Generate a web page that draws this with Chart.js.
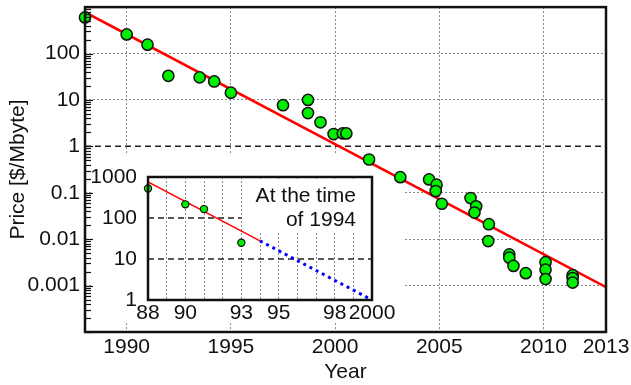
<!DOCTYPE html>
<html>
<head>
<meta charset="utf-8">
<script src="https://cdn.jsdelivr.net/npm/chart.js"></script>
<style>
  body { margin: 0; background: #fff; }
  #wrap { position: relative; width: 631px; height: 385px; }
  #main { position: absolute; left: 0; top: 0; }
  #inset { position: absolute; left: 92px; top: 155px; }
</style>
</head>
<body>
<div id="wrap">
  <canvas id="main" width="631" height="385"></canvas>
  <canvas id="inset" width="313" height="168"></canvas>
</div>
<script>
// ---- main chart data ----
const years = [1988, 1990, 1991, 1992, 1993.5, 1994.2, 1995, 1997.5, 1998.7, 1998.7,
  1999.3, 1999.93, 2000.37, 2000.54, 2001.63, 2003.13, 2004.51, 2004.87, 2004.83, 2005.12,
  2006.5, 2006.77, 2006.69, 2007.38, 2007.35, 2008.36, 2008.36, 2008.56, 2009.15,
  2010.1, 2010.1, 2010.1, 2011.4, 2011.4, 2011.4];
const prices = [600, 258, 155, 33, 30.6, 25, 14.3, 7.7, 10, 5.2,
  3.3, 1.84, 1.9, 1.9, 0.52, 0.217, 0.194, 0.149, 0.109, 0.058,
  0.077, 0.051, 0.0375, 0.021, 0.0091, 0.0047, 0.004, 0.00265, 0.00185,
  0.0032, 0.0022, 0.00138, 0.00168, 0.00145, 0.00116];
const fitYears = [1988, 2013];
const fitPrices = [776, 0.00093];
const refPrice = 1;
const xTickYears = [1990, 1995, 2000, 2005, 2010, 2013];
const yTickLabels = { '-3': '0.001', '-2': '0.01', '-1': '0.1', '0': '1', '1': '10', '2': '100' };

// ---- inset data (as of 1994) ----
const insetYears = [1988, 1990, 1991, 1993];
const insetPrices = [525, 215, 165, 25];
const insetFitYears = [1988, 1994];
const insetFitPrices = [757, 27.7];
const insetProjYears = [1994, 2000];
const insetProjPrices = [27.7, 1.0];
const insetTickLabels = { 1988: '88', 1990: '90', 1993: '93', 1995: '95', 1998: '98', 2000: '2000' };
const insetText = ['At the time', 'of 1994'];

const FONT = 'Liberation Sans, Arial, sans-serif';
const GREEN = '#00ee00';

function pts(xs, ys) {
  return xs.map((x, i) => ({ x: x, y: ys[i] }));
}

function noPad(s) {
  s.paddingTop = 0; s.paddingBottom = 0; s.paddingLeft = 0; s.paddingRight = 0;
}

// frame + inward ticks on the left axis, white patch under the inset
const mainDecor = {
  id: 'mainDecor',
  beforeDatasetsDraw(chart) {
    const ctx = chart.ctx;
    ctx.save();
    ctx.fillStyle = '#fff';
    ctx.fillRect(92, 155, 313, 168);
    ctx.restore();
  },
  afterDraw(chart) {
    const ctx = chart.ctx;
    const a = chart.chartArea;
    const ys = chart.scales.y;
    ctx.save();
    ctx.strokeStyle = '#111';
    ctx.lineWidth = 1.2;
    for (let n = -4; n <= 3; n++) {
      for (let k = 1; k <= 9; k++) {
        const v = k * Math.pow(10, n);
        if (v > 1000.01) break;
        const py = Math.round(ys.getPixelForValue(v)) + 0.5;
        ctx.beginPath();
        ctx.moveTo(a.left, py);
        ctx.lineTo(a.left + (k === 1 ? 8 : 6), py);
        ctx.stroke();
      }
    }
    ctx.lineWidth = 2.5;
    ctx.strokeRect(a.left, a.top, a.right - a.left, a.bottom - a.top);
    ctx.restore();
  }
};

new Chart(document.getElementById('main'), {
  type: 'scatter',
  data: {
    datasets: [
      {
        data: pts(years, prices),
        backgroundColor: GREEN,
        borderColor: '#111',
        borderWidth: 1.5,
        pointRadius: 5.6,
        clip: false,
        order: 0
      },
      {
        type: 'line',
        data: pts(fitYears, fitPrices),
        borderColor: '#ff0000',
        borderWidth: 2.5,
        pointRadius: 0,
        order: 1
      },
      {
        type: 'line',
        data: pts(fitYears, [refPrice, refPrice]),
        borderColor: '#222',
        borderWidth: 1.5,
        borderDash: [6, 4],
        pointRadius: 0,
        order: 2
      }
    ]
  },
  options: {
    responsive: false,
    animation: false,
    devicePixelRatio: 1,
    layout: { padding: { top: 6, right: 25, left: 0, bottom: 0 } },
    plugins: { legend: { display: false }, tooltip: { enabled: false } },
    scales: {
      x: {
        type: 'linear',
        min: 1988,
        max: 2013,
        afterBuildTicks: (s) => { s.ticks = xTickYears.map(v => ({ value: v })); },
        afterFit: (s) => { s.height = 53; noPad(s); },
        ticks: { color: '#111', font: { family: FONT, size: 21 }, padding: 3, maxRotation: 0, autoSkip: false,
          callback: (v) => String(v) },
        grid: { color: (c) => c.tick && c.tick.value < 2012 ? '#888' : 'transparent', lineWidth: 1, drawTicks: false },
        border: { display: false, dash: [2, 2] },
        title: { display: true, text: 'Year', color: '#111', font: { family: FONT, size: 21 }, padding: { top: 0, bottom: 0 } }
      },
      y: {
        type: 'logarithmic',
        min: 0.0001,
        max: 1000,
        afterBuildTicks: (s) => {
          const t = [];
          for (let n = -4; n <= 3; n++) t.push({ value: Math.pow(10, n) });
          s.ticks = t;
        },
        afterFit: (s) => { s.width = 85; noPad(s); },
        ticks: { color: '#111', font: { family: FONT, size: 21 }, padding: 5, autoSkip: false,
          callback: (v) => {
            const n = Math.round(Math.log10(v));
            return yTickLabels[n] !== undefined ? yTickLabels[n] : '';
          } },
        grid: {
          color: (c) => {
            if (!c.tick) return 'transparent';
            const n = Math.round(Math.log10(c.tick.value));
            return (n >= -3 && n <= 2 && n !== 0) ? '#888' : 'transparent';
          },
          lineWidth: 1,
          drawTicks: false
        },
        border: { display: false, dash: [2, 2] },
        title: { display: true, text: 'Price [$/Mbyte]', color: '#111', font: { family: FONT, size: 21 }, padding: { top: 6, bottom: 0 } }
      }
    }
  },
  plugins: [mainDecor]
});

// inset: text box over the grid, then frame
const insetDecor = {
  id: 'insetDecor',
  beforeDatasetsDraw(chart) {
    const ctx = chart.ctx;
    const a = chart.chartArea;
    ctx.save();
    ctx.fillStyle = '#fff';
    ctx.fillRect(a.left + 102, a.top + 3, a.right - a.left - 104, 53);
    ctx.fillStyle = '#111';
    ctx.font = '21px ' + FONT;
    ctx.textAlign = 'right';
    ctx.textBaseline = 'alphabetic';
    ctx.fillText(insetText[0], a.right - 16, a.top + 24.5);
    ctx.fillText(insetText[1], a.right - 16, a.top + 48.5);
    ctx.restore();
  },
  afterDraw(chart) {
    const ctx = chart.ctx;
    const a = chart.chartArea;
    ctx.save();
    ctx.strokeStyle = '#111';
    ctx.lineWidth = 2.5;
    ctx.strokeRect(a.left, a.top, a.right - a.left, a.bottom - a.top);
    ctx.restore();
  }
};

new Chart(document.getElementById('inset'), {
  type: 'scatter',
  data: {
    datasets: [
      {
        data: pts(insetYears, insetPrices),
        backgroundColor: GREEN,
        borderColor: '#111',
        borderWidth: 1.2,
        pointRadius: 3.6,
        clip: false,
        order: 0
      },
      {
        type: 'line',
        data: pts(insetFitYears, insetFitPrices),
        borderColor: '#ff0000',
        borderWidth: 1.5,
        pointRadius: 0,
        order: 1
      },
      {
        type: 'line',
        data: pts(insetProjYears, insetProjPrices),
        borderColor: '#0000ff',
        borderWidth: 3,
        borderDash: [3, 4],
        pointRadius: 0,
        order: 1
      },
      {
        type: 'line',
        data: pts([1988, 1993], [100, 100]),
        borderColor: '#222',
        borderWidth: 1.3,
        borderDash: [6, 4],
        pointRadius: 0,
        order: 2
      },
      {
        type: 'line',
        data: pts([1988, 2000], [10, 10]),
        borderColor: '#222',
        borderWidth: 1.3,
        borderDash: [6, 4],
        pointRadius: 0,
        order: 2
      }
    ]
  },
  options: {
    responsive: false,
    animation: false,
    devicePixelRatio: 1,
    layout: { padding: { top: 22, right: 33, left: 0, bottom: 0 } },
    plugins: { legend: { display: false }, tooltip: { enabled: false } },
    scales: {
      x: {
        type: 'linear',
        min: 1988,
        max: 2000,
        afterBuildTicks: (s) => {
          const t = [];
          for (let y = 1988; y <= 2000; y++) t.push({ value: y });
          s.ticks = t;
        },
        afterFit: (s) => { s.height = 23; noPad(s); },
        ticks: { color: '#111', font: { family: FONT, size: 21 }, padding: 1, maxRotation: 0, autoSkip: false,
          callback: (v) => insetTickLabels[v] || '' },
        grid: { color: (c) => c.tick && c.tick.value > 1988 && c.tick.value < 2000 ? '#888' : 'transparent', lineWidth: 1, drawTicks: false },
        border: { display: false, dash: [2, 2] }
      },
      y: {
        type: 'logarithmic',
        min: 1,
        max: 1000,
        afterBuildTicks: (s) => { s.ticks = [1, 10, 100, 1000].map(v => ({ value: v })); },
        afterFit: (s) => { s.width = 56; noPad(s); },
        ticks: { color: '#111', font: { family: FONT, size: 21 }, padding: 3, autoSkip: false,
          callback: (v) => String(v) },
        grid: { display: false },
        border: { display: false }
      }
    }
  },
  plugins: [insetDecor]
});
</script>
</body>
</html>
